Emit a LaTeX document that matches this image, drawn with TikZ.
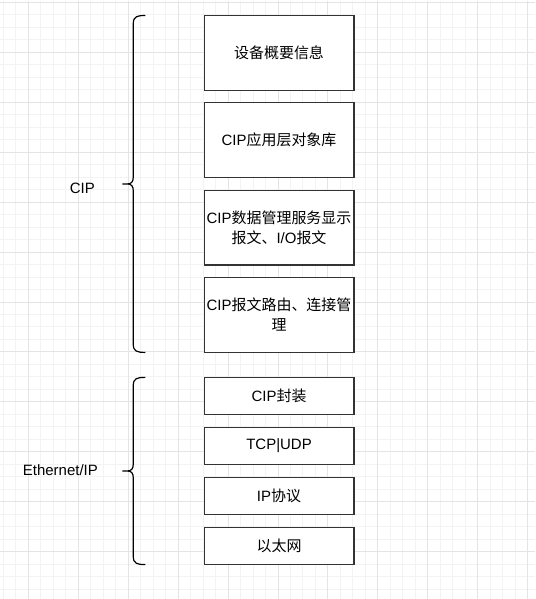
\documentclass[tikz,border=0pt]{standalone}
\usepackage{fontspec}
\setmainfont{Liberation Sans}
\newfontfamily\cjk{Noto Sans CJK SC}
\usepackage{tikz}
\usetikzlibrary{positioning}

\definecolor{gridminor}{HTML}{F3F3F3}
\definecolor{gridmajor}{HTML}{E4E4E4}
\definecolor{boxline}{HTML}{333333}

% draw.io style curly bracket: top, bottom, x of the arms, x of the tip
\newcommand{\cbrace}[4]{%
  \draw[bracket] (#3,#1) .. controls (#3-8,#1) and (#3-12,#1+1) .. (#3-12,#1+8)
    -- (#3-12,{(#1+#2)/2-7}) .. controls (#3-12,{(#1+#2)/2-2}) and (#3-14,{(#1+#2)/2}) .. (#3-18,{(#1+#2)/2})
    -- (#4,{(#1+#2)/2})
    (#3-18,{(#1+#2)/2}) .. controls (#3-14,{(#1+#2)/2}) and (#3-12,{(#1+#2)/2+2}) .. (#3-12,{(#1+#2)/2+7})
    -- (#3-12,#2-8) .. controls (#3-12,#2-1) and (#3-8,#2) .. (#3,#2);}

\begin{document}
\begin{tikzpicture}[x=0.75pt,y=-0.75pt]

 \tikzset{
 	layer/.style={
 		draw=boxline,
 		line width=0.9pt,
 		outer sep=0pt,
 		fill=white,
 		minimum width=112.5pt,
 		minimum height=#1,
 		align=center,
 		inner sep=1pt,
 		font=\fontsize{11.25}{15}\selectfont
 	},
 	layer/.default=56.25pt,
 	bracket/.style={draw=black, line width=0.9pt},
 	tag/.style={font=\fontsize{11.25}{15}\selectfont}
 }

 % background grid
 \fill[white] (0,0) rectangle (535,599);
 \foreach \gx in {3,15.5,...,535} \draw[gridminor, line width=0.75pt] (\gx,0) -- (\gx,599);
 \foreach \gy in {2,14.5,...,599} \draw[gridminor, line width=0.75pt] (0,\gy) -- (535,\gy);
 \foreach \gx in {28,78,...,535} \draw[gridmajor, line width=0.75pt] (\gx,0) -- (\gx,599);
 \foreach \gy in {2,52,...,599} \draw[gridmajor, line width=0.75pt] (0,\gy) -- (535,\gy);
 \useasboundingbox (0,0) rectangle (535,599);

 % CIP layers
 \node[layer] (info) at (279,52.5) {\cjk 设备概要信息};
 \node[layer, below=9.375pt of info] (objlib) {CIP{\cjk 应用层对象库}};
 \node[layer, below=9.375pt of objlib] (msg) {CIP{\cjk 数据管理服务显示}\\{\cjk 报文、}I/O{\cjk 报文}};
 \node[layer, below=9.375pt of msg] (route) {CIP{\cjk 报文路由、连接管}\\{\cjk 理}};

 % Ethernet/IP layers
 \node[layer=28.125pt, below=18.75pt of route] (encap) {CIP{\cjk 封装}};
 \node[layer=28.125pt, below=9.375pt of encap] (tcp) {TCP|UDP};
 \node[layer=28.125pt, below=9.375pt of tcp] (ip) {IP{\cjk 协议}};
 \node[layer=28.125pt, below=9.375pt of ip] (eth) {\cjk 以太网};

 % brackets and their labels
 \cbrace{15}{352.5}{145}{122}
 \cbrace{377.5}{565}{145}{122}
 \node[tag] (cip) at (82,188) {CIP};
 \node[tag] (enip) at (60,470) {Ethernet/IP};

\end{tikzpicture}
\end{document}
